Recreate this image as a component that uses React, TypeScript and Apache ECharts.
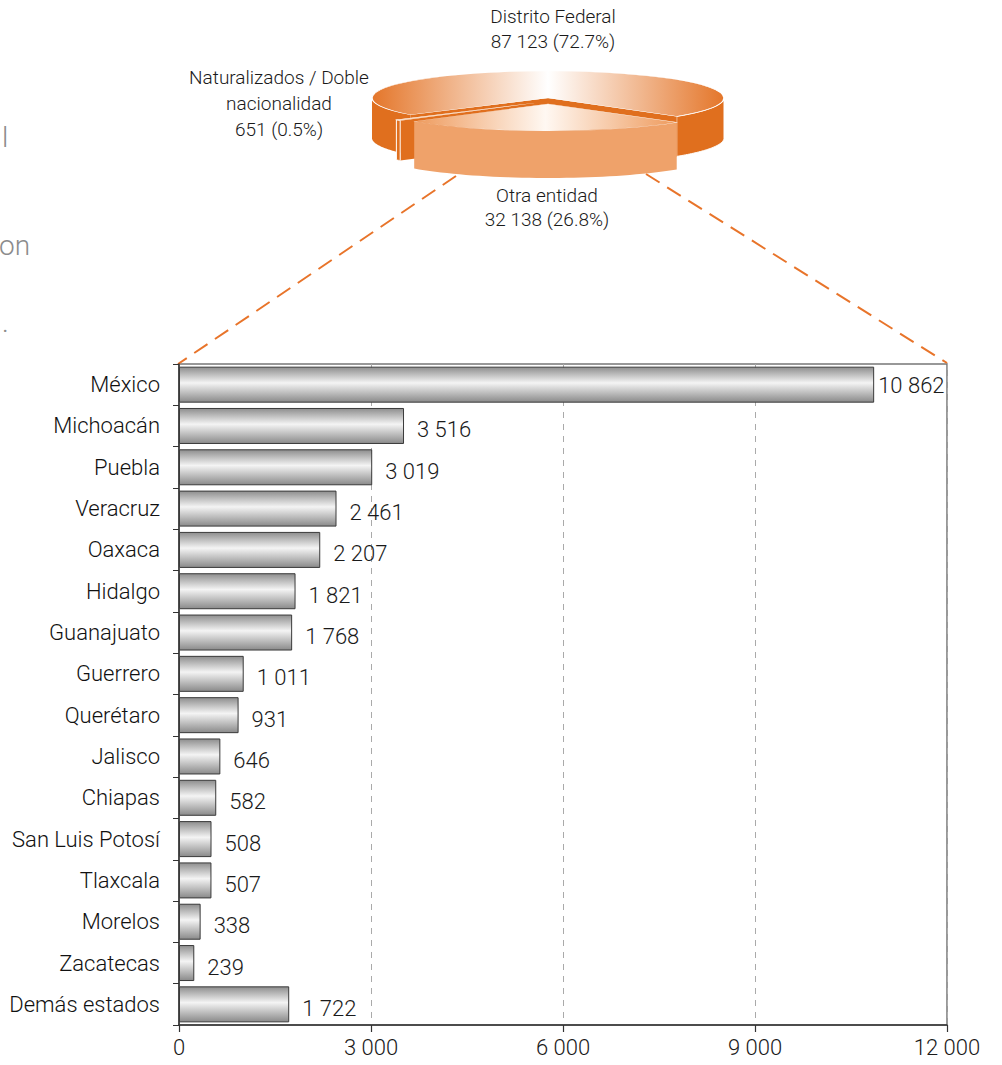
import React, { useEffect, useRef } from "react";
import * as echarts from "echarts";

const categories = [
  "México", "Michoacán", "Puebla", "Veracruz", "Oaxaca", "Hidalgo", "Guanajuato",
  "Guerrero", "Querétaro", "Jalisco", "Chiapas", "San Luis Potosí", "Tlaxcala",
  "Morelos", "Zacatecas", "Demás estados",
];
const values = [10862, 3516, 3019, 2461, 2207, 1821, 1768, 1011, 931, 646, 582, 508, 507, 338, 239, 1722];
const xMin = 0;
const xMax = 12000;
const xInterval = 3000;

const pieNames = ["Distrito Federal", "Otra entidad", "Naturalizados / Doble\nnacionalidad"];
const pieValues = [87123, 32138, 651];

const FONT = "Roboto, 'Open Sans', sans-serif";
const W = 300;

function fmt(n: number): string {
  return String(n).replace(/\B(?=(\d{3})+(?!\d))/g, " ");
}

export default function App() {
  const ref = useRef<HTMLDivElement>(null);
  useEffect(() => {
    if (!ref.current) return;
    const chart = echarts.init(ref.current, undefined, { renderer: "svg" });

    // pseudo-3D pie geometry
    const cx = 548, cy = 98, rx = 176, ry = 27, depth = 40;
    const total = pieValues.reduce((a, b) => a + b, 0);
    const deg = (v: number) => (v / total) * 360;
    const otraStart = 43;
    const otraEnd = otraStart + deg(pieValues[1]);
    const natStart = otraEnd;
    const natEnd = natStart + deg(pieValues[2]);
    const dfStart = natEnd;
    const dfEnd = otraStart + 360;
    const rad = (d: number) => (d * Math.PI) / 180;
    const rim = (a: number, ox: number, oy: number) => [
      cx + ox + rx * Math.cos(rad(a)),
      cy + oy + ry * Math.sin(rad(a)),
    ];

    const wall = (a0: number, a1: number, ox: number, oy: number, d: number) => {
      const top: number[][] = [];
      const bot: number[][] = [];
      const steps = 40;
      for (let i = 0; i <= steps; i++) {
        const [x, y] = rim(a0 + ((a1 - a0) * i) / steps, ox, oy);
        top.push([x, y]);
        bot.push([x, y + d]);
      }
      return top.concat(bot.reverse());
    };
    const radialFace = (a: number, ox: number, oy: number, d: number) => {
      const [x, y] = rim(a, ox, oy);
      return [
        [cx + ox, cy + oy],
        [x, y],
        [x, y + d],
        [cx + ox, cy + oy + d],
      ];
    };

    const pct = (v: number) => ((v / total) * 100).toFixed(1);
    const orangeGrad = new echarts.graphic.LinearGradient(0, 0, 1, 0, [
      { offset: 0, color: "#E4762A" },
      { offset: 0.5, color: "#FFFFFF" },
      { offset: 1, color: "#E4762A" },
    ]);
    const lightGrad = new echarts.graphic.LinearGradient(0, 0, 1, 0, [
      { offset: 0, color: "#EE9A5C" },
      { offset: 0.5, color: "#FFF8F2" },
      { offset: 1, color: "#EE9A5C" },
    ]);

    const topFace = (a0: number, a1: number, ox: number, oy: number, fill: any, lw = 1.5) => ({
      type: "group",
      x: cx + ox,
      y: cy + oy,
      scaleY: ry / rx,
      children: [
        {
          type: "sector",
          shape: { cx: 0, cy: 0, r0: 0, r: rx, startAngle: rad(a0), endAngle: rad(a1), clockwise: true },
          style: { fill, stroke: "#FFFFFF", lineWidth: lw, strokeNoScale: true },
        },
      ],
    });

    const otraOy = 6;
    const otraDepth = 47;
    const natOx = -14, natOy = 5;
    const dark = "#E06F1E";

    const textStyle = (text: string, lh: number) => ({
      text, fontSize: 19, fontFamily: FONT, fontWeight: W, fill: "#1a1a1a",
      align: "center", verticalAlign: "middle", lineHeight: lh,
    });

    const graphic: any[] = [
      // DF walls and exposed radial faces
      { type: "polygon", shape: { points: wall(0, otraStart, 0, 0, depth) }, style: { fill: dark, stroke: "#FFFFFF", lineWidth: 1 } },
      { type: "polygon", shape: { points: wall(dfStart, 180, 0, 0, depth) }, style: { fill: dark } },
      { type: "polygon", shape: { points: radialFace(dfStart, 0, 0, depth) }, style: { fill: dark } },
      { type: "polygon", shape: { points: radialFace(otraStart, 0, 0, depth) }, style: { fill: dark } },
      topFace(dfStart, dfEnd, 0, 0, orangeGrad),
      // Naturalizados slice (exploded left)
      { type: "polygon", shape: { points: radialFace(natStart, natOx, natOy, depth) }, style: { fill: dark } },
      { type: "polygon", shape: { points: wall(natStart, natEnd, natOx, natOy, depth) }, style: { fill: dark, stroke: "#FFFFFF", lineWidth: 1 } },
      topFace(natStart, natEnd, natOx, natOy, "#F8D2B4", 2),
      // Otra entidad slice (exploded forward)
      { type: "polygon", shape: { points: wall(otraStart, otraEnd, 0, otraOy, otraDepth) }, style: { fill: "#EFA26A" } },
      topFace(otraStart, otraEnd, 0, otraOy, lightGrad),
      // dashed connectors
      { type: "line", shape: { x1: 456, y1: 176, x2: 178, y2: 364 }, style: { stroke: "#E8742A", lineWidth: 2, lineDash: [16, 9] } },
      { type: "line", shape: { x1: 646, y1: 174, x2: 947, y2: 363 }, style: { stroke: "#E8742A", lineWidth: 2, lineDash: [16, 9] } },
      // pie labels
      { type: "text", x: 553, y: 29, style: textStyle(`${pieNames[0]}\n${fmt(pieValues[0])} (${pct(pieValues[0])}%)`, 25) },
      { type: "text", x: 279, y: 103, style: textStyle(`${pieNames[2]}\n${fmt(pieValues[2])} (${pct(pieValues[2])}%)`, 26) },
      { type: "text", x: 547, y: 207, style: textStyle(`${pieNames[1]}\n${fmt(pieValues[1])} (${pct(pieValues[1])}%)`, 24) },
      // clipped text fragments at the left edge
      { type: "text", x: 2, y: 137, style: { text: "l", fontSize: 28, fontFamily: FONT, fontWeight: W, fill: "#8C8C8C", verticalAlign: "middle" } },
      { type: "text", x: -1, y: 245, style: { text: "on", fontSize: 28, fontFamily: FONT, fontWeight: W, fill: "#8C8C8C", verticalAlign: "middle" } },
      { type: "text", x: 2, y: 322, style: { text: ".", fontSize: 28, fontFamily: FONT, fontWeight: W, fill: "#8C8C8C", verticalAlign: "middle" } },
    ];

    const barGrad = new echarts.graphic.LinearGradient(0, 0, 0, 1, [
      { offset: 0, color: "#8E8E8E" },
      { offset: 0.45, color: "#F4F4F4" },
      { offset: 1, color: "#8A8A8A" },
    ]);

    chart.setOption({
      animation: false,
      textStyle: { fontFamily: FONT, fontWeight: W },
      grid: {
        left: 179, top: 364, width: 768, height: 661,
        show: true, borderColor: "#777777", borderWidth: 1.5, backgroundColor: "transparent",
      },
      xAxis: {
        type: "value", min: xMin, max: xMax, interval: xInterval,
        axisLine: { show: true, lineStyle: { color: "#333", width: 1.5 } },
        axisTick: { show: true, length: 7, lineStyle: { color: "#333", width: 1.2 } },
        axisLabel: { fontSize: 22, fontWeight: W, color: "#1a1a1a", margin: 11, formatter: (v: number) => fmt(v) },
        splitLine: { show: true, lineStyle: { color: "#AAAAAA", type: [6, 6], width: 1 } },
      },
      yAxis: {
        type: "category", data: categories, inverse: true,
        axisLine: { show: true, lineStyle: { color: "#333", width: 1.5 } },
        axisTick: { show: true, length: 6, lineStyle: { color: "#333" } },
        axisLabel: { fontSize: 22, fontWeight: W, color: "#111", margin: 19 },
        splitLine: { show: false },
      },
      series: [
        {
          type: "bar",
          barWidth: 36,
          data: values.map((v, i) => ({
            value: v,
            label: i === 0 ? { distance: 4, offset: [0, 1] } : undefined,
          })),
          itemStyle: { color: barGrad, borderColor: "#3A3A3A", borderWidth: 1 },
          label: {
            show: true, position: "right", distance: 13, offset: [0, 4],
            fontSize: 22, fontWeight: W, color: "#1a1a1a", formatter: (p: any) => fmt(p.value),
          },
        },
      ],
      graphic,
    });
    return () => chart.dispose();
  }, []);
  return (
    <div
      ref={ref}
      style={{ position: "fixed", left: 0, top: 0, width: 1002, height: 1065, background: "#fff" }}
    />
  );
}
